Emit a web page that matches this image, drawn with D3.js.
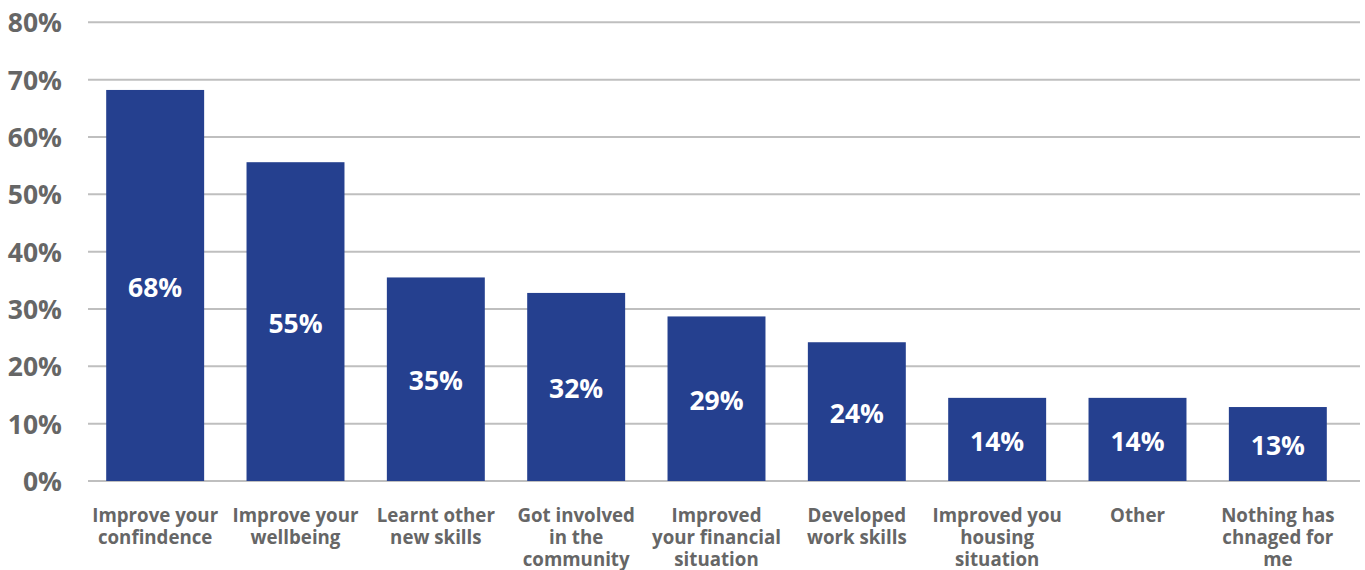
<!DOCTYPE html>
<html><head><meta charset="utf-8">
<script src="https://cdn.jsdelivr.net/npm/d3@7"></script>
<style>body{margin:0;background:#fff}svg{display:block;font-family:"Open Sans",sans-serif}</style>
</head><body><svg id="c" width="1365" height="570"></svg>
<script>
const categories = [
  ["Improve your","confindence"],
  ["Improve your","wellbeing"],
  ["Learnt other","new skills"],
  ["Got involved","in the","community"],
  ["Improved","your financial","situation"],
  ["Developed","work skills"],
  ["Improved you","housing","situation"],
  ["Other"],
  ["Nothing has","chnaged for","me"]
];
const values = [68.2, 55.6, 35.5, 32.8, 28.7, 24.2, 14.5, 14.5, 12.9];
const valueLabels = ["68%","55%","35%","32%","29%","24%","14%","14%","13%"];
const yTicks = [0,10,20,30,40,50,60,70,80];

const svg = d3.select("#c");
const y = d3.scaleLinear().domain([0,80]).range([481,22.3]);
const x = d3.scaleBand().domain(d3.range(categories.length)).range([85,1348]).paddingInner(0.302).paddingOuter(0.151);

// gridlines
svg.append("g").selectAll("line").data(yTicks).join("line")
  .attr("x1",88).attr("x2",1360)
  .attr("y1",d=>y(d)).attr("y2",d=>y(d))
  .attr("stroke","#bfbfbf").attr("stroke-width",2);

// y axis labels
const yAxis = d3.axisLeft(y).tickValues(yTicks).tickFormat(d=>d+"%").tickSize(0).tickPadding(0);
const ya = svg.append("g").attr("transform","translate(62,0)").call(yAxis);
ya.select(".domain").remove();
ya.selectAll("text").attr("font-size",26.5).attr("font-weight","bold").attr("fill","#666666")
  .attr("font-family","'Open Sans',sans-serif").attr("dy","0.36em");

// bars
svg.append("g").selectAll("rect").data(values).join("rect")
  .attr("x",(d,i)=>x(i)).attr("width",x.bandwidth())
  .attr("y",d=>y(d)).attr("height",d=>y(0)-y(d))
  .attr("fill","#25408f");

// value labels
svg.append("g").selectAll("text").data(values).join("text")
  .attr("x",(d,i)=>x(i)+x.bandwidth()/2)
  .attr("y",d=>(y(d)+y(0))/2).attr("dy","0.42em")
  .attr("text-anchor","middle").attr("font-size",26.5).attr("font-weight","bold").attr("fill","#ffffff")
  .text((d,i)=>valueLabels[i]);

// category labels
const cg = svg.append("g").selectAll("text").data(categories).join("text")
  .attr("text-anchor","middle").attr("font-size",18.7).attr("font-weight","bold").attr("fill","#666666")
  .attr("transform",(d,i)=>`translate(${x(i)+x.bandwidth()/2},522)`);
cg.selectAll("tspan").data(d=>d).join("tspan")
  .attr("x",0).attr("y",(d,j)=>j*22).text(d=>d);
</script></body></html>
